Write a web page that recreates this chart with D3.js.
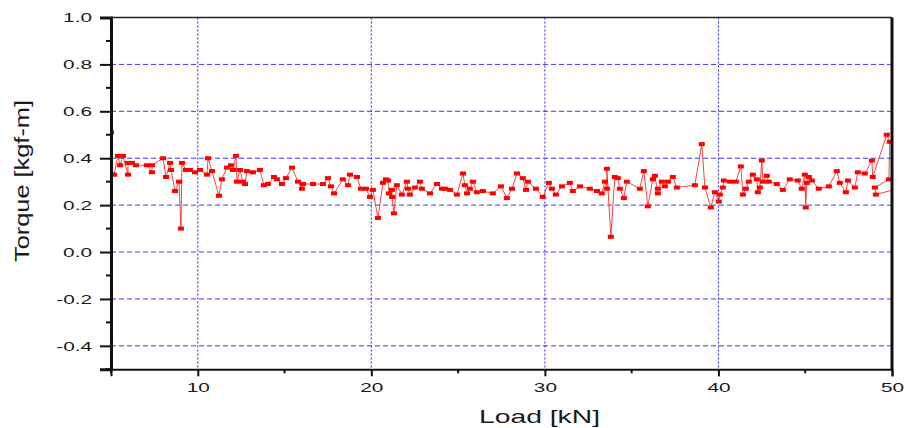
<!DOCTYPE html>
<html>
<head>
<meta charset="utf-8">
<script src="https://cdn.jsdelivr.net/npm/d3@7"></script>
<style>
  body { margin: 0; background: #fff; }
  svg { display: block; }
  text { font-family: "Liberation Sans", Arial, sans-serif; fill: #1a1a1a; }
</style>
</head>
<body>
<div id="chart"></div>
<script>
// data
var load = [
  5.00, 5.06, 5.17, 5.40, 5.52, 5.69, 5.98, 5.98, 6.21, 6.44,
  7.07, 7.36, 7.36, 8.00, 8.17, 8.40, 8.46, 8.69, 8.92, 9.03,
  9.09, 9.32, 9.55, 9.84, 10.13, 10.53, 10.59, 10.82, 11.22, 11.39,
  11.68, 11.91, 12.03, 12.20, 12.26, 12.43, 12.60, 12.72, 12.83, 13.18,
  13.58, 13.81, 14.04, 14.39, 14.56, 14.85, 15.08, 15.43, 15.77, 16.00,
  16.06, 16.64, 17.21, 17.50, 17.67, 17.85, 18.36, 18.65, 18.77, 19.17,
  19.40, 19.69, 19.92, 20.09, 20.38, 20.67, 20.84, 20.96, 21.01, 21.19,
  21.19, 21.30, 21.47, 21.76, 22.05, 22.11, 22.22, 22.51, 22.80, 22.91,
  23.38, 23.78, 24.07, 24.24, 24.53, 24.93, 25.28, 25.39, 25.51, 25.68,
  25.85, 26.08, 26.43, 27.00, 27.47, 27.81, 28.10, 28.39, 28.73, 28.91,
  29.02, 29.48, 29.88, 30.23, 30.40, 30.63, 30.98, 31.44, 31.61, 32.02,
  32.59, 33.00, 33.28, 33.46, 33.57, 33.57, 33.80, 34.03, 34.20, 34.32,
  34.55, 34.72, 35.47, 35.70, 35.93, 36.22, 36.34, 36.51, 36.51, 36.74,
  36.91, 37.09, 37.37, 37.60, 38.64, 39.04, 39.22, 39.56, 39.79, 40.02,
  40.08, 40.25, 40.31, 40.66, 41.00, 41.29, 41.41, 41.58, 41.75, 41.98,
  42.21, 42.27, 42.38, 42.50, 42.56, 42.79, 42.90, 43.36, 43.71, 44.11,
  44.57, 44.80, 44.98, 45.03, 45.09, 45.21, 45.38, 45.78, 46.36, 46.82,
  46.99, 47.34, 47.46, 47.86, 48.03, 48.43, 48.84, 48.89,
  49.70, 49.87, 49.82, 49.01, 49.07, 50.30
];
var torque = [
  0.51, 0.33, 0.33, 0.41, 0.37, 0.41, 0.33, 0.38, 0.38, 0.37,
  0.37, 0.34, 0.37, 0.40, 0.32, 0.38, 0.35, 0.26, 0.30, 0.10,
  0.38, 0.35, 0.35, 0.34, 0.35, 0.33, 0.40, 0.345, 0.24, 0.31,
  0.36, 0.37, 0.35, 0.41, 0.30, 0.35, 0.30, 0.29, 0.345, 0.34,
  0.35, 0.285, 0.29, 0.32, 0.31, 0.29, 0.315, 0.36, 0.30, 0.27,
  0.29, 0.29, 0.29, 0.315, 0.28, 0.25, 0.31, 0.285, 0.33, 0.32,
  0.27, 0.27, 0.235, 0.265, 0.145, 0.295, 0.31, 0.305, 0.25, 0.265,
  0.235, 0.165, 0.285, 0.245, 0.30, 0.27, 0.245, 0.275, 0.30, 0.27,
  0.25, 0.29, 0.27, 0.27, 0.265, 0.245, 0.335, 0.285, 0.25, 0.27,
  0.30, 0.255, 0.26, 0.25, 0.28, 0.23, 0.27, 0.335, 0.315, 0.265,
  0.30, 0.27, 0.235, 0.295, 0.27, 0.245, 0.28, 0.295, 0.26, 0.28,
  0.27, 0.26, 0.25, 0.30, 0.27, 0.355, 0.065, 0.32, 0.315, 0.27,
  0.23, 0.30, 0.27, 0.345, 0.195, 0.31, 0.325, 0.25, 0.27, 0.30,
  0.28, 0.30, 0.32, 0.275, 0.285, 0.46, 0.275, 0.19, 0.255, 0.215,
  0.245, 0.275, 0.305, 0.30, 0.30, 0.365, 0.245, 0.27, 0.30, 0.33,
  0.31, 0.255, 0.275, 0.39, 0.30, 0.325, 0.30, 0.29, 0.265, 0.31,
  0.305, 0.27, 0.33, 0.19, 0.295, 0.32, 0.305, 0.27, 0.28, 0.345,
  0.295, 0.255, 0.305, 0.275, 0.34, 0.335, 0.39, 0.32,
  0.50, 0.47, 0.31, 0.275, 0.245, 0.27
];

var xMajor = [10, 20, 30, 40, 50],
    xMinor = [5, 15, 25, 35, 45],
    yMajor = [-0.4, -0.2, 0.0, 0.2, 0.4, 0.6, 0.8, 1.0],
    yMinor = [-0.5, -0.3, -0.1, 0.1, 0.3, 0.5, 0.7, 0.9],
    xGrid = [10, 20, 30, 40],
    yGrid = [-0.4, -0.2, 0.0, 0.2, 0.4, 0.6, 0.8];

var W = 908, H = 428;
var margin = { top: 17.5, right: 16, bottom: 58.7, left: 111 },
    width = W - margin.left - margin.right,
    height = H - margin.top - margin.bottom;

var svg = d3.select("#chart").append("svg")
    .attr("width", W)
    .attr("height", H);

svg.append("rect").attr("width", W).attr("height", H).attr("fill", "#fff");

var g = svg.append("g")
    .attr("transform", "translate(" + margin.left + "," + margin.top + ")");

var x = d3.scaleLinear().domain([5, 50]).range([0, width]);
var y = d3.scaleLinear().domain([-0.5, 1.0]).range([height, 0]);

// grid
g.selectAll(".hgrid").data(yGrid).enter().append("line")
    .attr("x1", 0).attr("x2", width)
    .attr("y1", function (d) { return y(d); })
    .attr("y2", function (d) { return y(d); })
    .attr("stroke", "#3a3aff")
    .attr("stroke-width", 1)
    .attr("stroke-dasharray", "5,3");

g.selectAll(".vgrid").data(xGrid).enter().append("line")
    .attr("y1", 0).attr("y2", height)
    .attr("x1", function (d) { return x(d); })
    .attr("x2", function (d) { return x(d); })
    .attr("stroke", "#2020ff")
    .attr("stroke-width", 1)
    .attr("stroke-dasharray", "2,2");

// data
var clip = g.append("clipPath").attr("id", "plotclip")
    .append("rect").attr("width", width).attr("height", height);

var pts = load.map(function (d, i) { return [d, torque[i]]; });

var plot = g.append("g").attr("clip-path", "url(#plotclip)");

plot.append("path")
    .datum(pts)
    .attr("fill", "none")
    .attr("stroke", "#ff2020")
    .attr("stroke-width", 1)
    .attr("stroke-opacity", 0.85)
    .attr("d", d3.line()
        .x(function (d) { return x(d[0]); })
        .y(function (d) { return y(d[1]); }));

plot.selectAll(".pt").data(pts).enter().append("rect")
    .attr("x", function (d) { return x(d[0]) - 3; })
    .attr("y", function (d) { return y(d[1]) - 2; })
    .attr("width", 6)
    .attr("height", 4)
    .attr("fill", "#ff0000");

// frame
g.append("line").attr("x1", 0).attr("x2", width).attr("y1", 0).attr("y2", 0)
    .attr("stroke", "#222").attr("stroke-width", 1.5);
g.append("line").attr("x1", width).attr("x2", width).attr("y1", 0).attr("y2", height)
    .attr("stroke", "#111").attr("stroke-width", 3);

// axes
var yAxis = g.append("g")
    .call(d3.axisLeft(y).tickValues(yMajor).tickSize(11).tickPadding(8)
        .tickFormat(function (d) { return d.toFixed(1); }));
yAxis.append("g").selectAll("line").data(yMinor).enter().append("line")
    .attr("x1", -5).attr("x2", 0)
    .attr("y1", function (d) { return y(d); })
    .attr("y2", function (d) { return y(d); })
    .attr("stroke", "#111").attr("stroke-width", 2);

var xAxis = g.append("g")
    .attr("transform", "translate(0," + height + ")")
    .call(d3.axisBottom(x).tickValues(xMajor).tickSize(7).tickPadding(6)
        .tickFormat(d3.format("d")));
xAxis.append("g").selectAll("line").data(xMinor).enter().append("line")
    .attr("x1", function (d) { return x(d); })
    .attr("x2", function (d) { return x(d); })
    .attr("y1", 0).attr("y2", 4)
    .attr("stroke", "#111").attr("stroke-width", 2);

yAxis.select(".domain").attr("stroke", "#111").attr("stroke-width", 3);
xAxis.select(".domain").attr("stroke", "#111").attr("stroke-width", 2);
g.selectAll(".tick line").attr("stroke", "#111").attr("stroke-width", 2);

yAxis.selectAll(".tick text")
    .attr("font-size", 13)
    .attr("x", -19 / 1.6)
    .attr("transform", "scale(1.6,1)");
xAxis.selectAll(".tick text")
    .attr("font-size", 13)
    .attr("transform", "scale(1.6,1)");

// titles
svg.append("text")
    .attr("x", 539.5)
    .attr("y", 423)
    .attr("text-anchor", "middle")
    .attr("font-size", 18)
    .attr("textLength", 121)
    .attr("lengthAdjust", "spacingAndGlyphs")
    .text("Load [kN]");

svg.append("text")
    .attr("transform", "translate(29,181) rotate(-90)")
    .attr("text-anchor", "middle")
    .attr("font-size", 20)
    .attr("textLength", 162)
    .attr("lengthAdjust", "spacingAndGlyphs")
    .text("Torque [kgf-m]");
</script>
</body>
</html>
